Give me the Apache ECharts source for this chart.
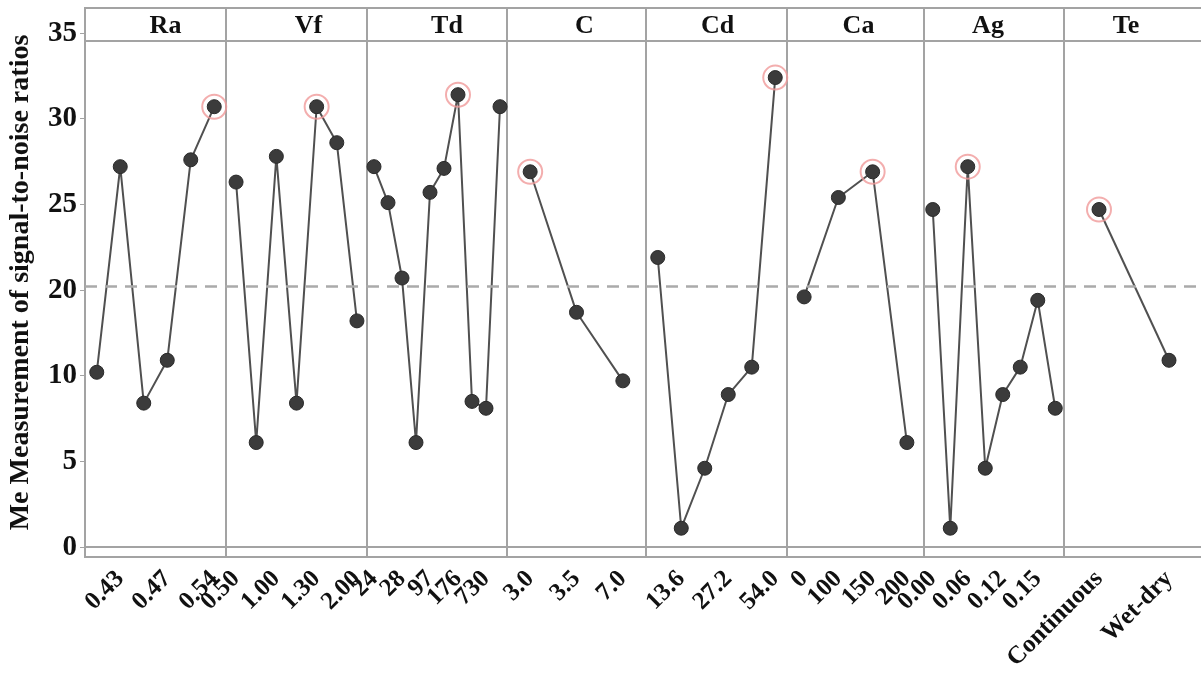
<!DOCTYPE html>
<html>
<head>
<meta charset="utf-8">
<script src="https://cdn.jsdelivr.net/npm/echarts@6/dist/echarts.min.js"></script>
<style>
  html, body { margin: 0; padding: 0; background: #fff; }
  #chart { width: 1201px; height: 681px; }
</style>
</head>
<body>
<div id="chart"></div>
<script>
// factor names and their level labels (blank = unlabelled level)
const panels = ['Ra', 'Vf', 'Td', 'C', 'Cd', 'Ca', 'Ag', 'Te'];
const raLevels = ['', '0.43', '', '0.47', '', '0.54'];
const vfLevels = ['0.50', '', '1.00', '', '1.30', '', '2.00'];
const tdLevels = ['24', '', '28', '', '97', '', '176', '', '730', ''];
const cLevels = ['3.0', '3.5', '7.0'];
const cdLevels = ['', '13.6', '', '27.2', '', '54.0'];
const caLevels = ['0', '100', '150', '200'];
const agLevels = ['0.00', '', '0.06', '', '0.12', '', '0.15', ''];
const teLevels = ['Continuous', 'Wet-dry'];

// S/N means, read on the plotted scale
const raSN = [10.2, 22.2, 8.4, 10.9, 22.6, 25.7];
const vfSN = [21.3, 6.1, 22.8, 8.4, 25.7, 23.6, 13.2];
const tdSN = [22.2, 20.1, 15.7, 6.1, 20.7, 22.1, 26.4, 8.5, 8.1, 25.7];
const cSN = [21.9, 13.7, 9.7];
const cdSN = [16.9, 1.1, 4.6, 8.9, 10.5, 27.4];
const caSN = [14.6, 20.4, 21.9, 6.1];
const agSN = [19.7, 1.1, 22.2, 4.6, 8.9, 10.5, 14.4, 8.1];
const teSN = [19.7, 10.9];

// optimal level (circled) per factor
const bestLevel = [5, 4, 6, 0, 5, 2, 2, 0];
const meanSN = 15.2;

// y tick positions and the labels printed there
const yTickValues = [0, 5, 10, 15, 20, 25, 30];
const yTickLabels = ['0', '5', '10', '20', '25', '30', '35'];

const levels = [raLevels, vfLevels, tdLevels, cLevels, cdLevels, caLevels, agLevels, teLevels];
const values = [raSN, vfSN, tdSN, cSN, cdSN, caSN, agSN, teSN];

const gridLeft = [85, 226, 367, 507, 646, 787, 924, 1064];
const gridWidth = [141, 141, 140, 139, 141, 137, 140, 140];
const titleShift = [10, 12, 10, 8, 1, 3, -6, -8];
const Y_MIN = -0.58, Y_MAX = 31.46, HEADER = 29.53;
const border = '#a3a3a3';
const serif = 'Liberation Serif';

const chart = echarts.init(document.getElementById('chart'));

const grids = [], xAxes = [], yAxes = [], series = [], texts = [];
panels.forEach((name, i) => {
  grids.push({
    left: gridLeft[i], width: gridWidth[i], top: 8, bottom: 124,
    containLabel: false, outerBoundsMode: 'none',
    show: true, borderColor: border, borderWidth: 2
  });
  xAxes.push({
    type: 'category', gridIndex: i, data: levels[i], boundaryGap: true,
    axisLine: { lineStyle: { color: border, width: 2 } },
    axisTick: { interval: 0, alignWithLabel: true, length: 5, lineStyle: { color: border } },
    axisLabel: {
      interval: 0, rotate: 45, margin: 18, color: '#111',
      fontFamily: serif, fontWeight: 'bold', fontSize: 25
    }
  });
  yAxes.push({
    type: 'value', gridIndex: i, min: Y_MIN, max: Y_MAX, show: i === 0,
    splitLine: { show: false },
    axisLine: { show: true, lineStyle: { color: border, width: 2 } },
    axisTick: { show: true, customValues: yTickValues, length: 5, lineStyle: { color: border } },
    axisLabel: {
      customValues: yTickValues, margin: 8, color: '#111',
      fontFamily: serif, fontWeight: 'bold', fontSize: 29,
      formatter: v => yTickLabels[yTickValues.indexOf(v)]
    },
    name: i === 0 ? 'Me Measurement of signal-to-noise ratios' : '',
    nameLocation: 'middle', nameGap: 50, nameRotate: 90,
    nameTextStyle: { fontFamily: serif, fontWeight: 'bold', fontSize: 28, color: '#111' }
  });
  series.push({
    type: 'line', xAxisIndex: i, yAxisIndex: i, data: values[i],
    symbol: 'circle', symbolSize: 14,
    itemStyle: { color: '#3b3b3b', borderColor: '#2a2a2a', borderWidth: 1 },
    lineStyle: { color: '#505050', width: 2 },
    z: 3,
    markLine: {
      silent: true, symbol: 'none', label: { show: false },
      data: [
        { yAxis: meanSN, lineStyle: { type: [12, 8], color: '#aaa', width: 2.5 } },
        { yAxis: HEADER, lineStyle: { type: 'solid', color: border, width: 2 } }
      ]
    }
  });
  series.push({
    type: 'scatter', xAxisIndex: i, yAxisIndex: i,
    data: values[i].map((v, k) => (k === bestLevel[i] ? v : null)),
    symbol: 'circle', symbolSize: 24,
    itemStyle: { color: 'rgba(0,0,0,0)', borderColor: '#f09a9a', borderWidth: 2 },
    z: 4
  });
  texts.push({
    type: 'text', x: gridLeft[i] + gridWidth[i] / 2 + titleShift[i], y: 26,
    style: {
      text: name, textAlign: 'center', textVerticalAlign: 'middle',
      font: 'bold 26px "' + serif + '"', fill: '#111'
    }
  });
});

chart.setOption({
  backgroundColor: '#fff',
  animation: false,
  grid: grids,
  xAxis: xAxes,
  yAxis: yAxes,
  series: series,
  graphic: texts
});
</script>
</body>
</html>
